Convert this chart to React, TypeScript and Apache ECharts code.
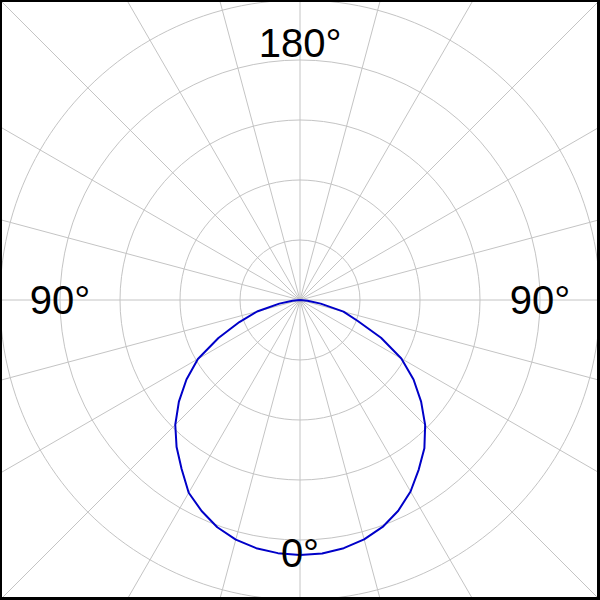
import React, { useEffect, useRef } from "react";
import * as echarts from "echarts";

// Pattern samples, angle in degrees measured from the 0° direction (bottom)
const patternAngles = [
  -90, -85, -80, -75, -70, -65, -60, -55, -50, -45, -40, -35, -30, -25, -20, -15, -10, -5,
  0, 5, 10, 15, 20, 25, 30, 35, 40, 45, 50, 55, 60, 65, 70, 75, 80, 85, 90,
];
// Normalised radius (outer circle = 1)
const patternValues = [
  0, 0.025, 0.07, 0.15, 0.205, 0.298, 0.39, 0.462, 0.527, 0.59, 0.645, 0.69, 0.737, 0.775, 0.805, 0.826, 0.84, 0.848,
  0.85, 0.847, 0.84, 0.827, 0.806, 0.776, 0.742, 0.688, 0.64, 0.588, 0.527, 0.462, 0.393, 0.3, 0.215, 0.148, 0.07, 0.025, 0,
];

// Angle labels
const labelTexts = ["0°", "90°", "180°", "90°"];
const labelAngles = [0, 90, 180, 270];
const labelRadii = [0.843, 0.8, 0.858, 0.8];

export default function App() {
  const ref = useRef<HTMLDivElement>(null);

  useEffect(() => {
    if (!ref.current) return;
    const chart = echarts.init(ref.current, undefined, { renderer: "svg" });

    const lineData = patternAngles.map((a, i) => [patternValues[i], a < 0 ? a + 360 : a]);
    const labelData = labelAngles.map((a, i) => ({
      value: [labelRadii[i], a],
      label: { formatter: labelTexts[i] },
    }));

    const gridColor = "#c4c4c4";

    chart.setOption({
      animation: false,
      backgroundColor: "#ffffff",
      polar: [
        { center: ["50%", "50%"], radius: 430 },
        { center: ["50%", "50%"], radius: 300 },
      ],
      angleAxis: [
        {
          polarIndex: 0,
          type: "value",
          min: 0,
          max: 360,
          interval: 15,
          startAngle: -90,
          clockwise: true,
          axisLine: { show: false },
          axisTick: { show: false },
          axisLabel: { show: false },
          splitLine: { show: true, lineStyle: { color: gridColor, width: 1 } },
        },
        {
          polarIndex: 1,
          type: "value",
          min: 0,
          max: 360,
          interval: 90,
          startAngle: -90,
          clockwise: true,
          axisLine: { show: false },
          axisTick: { show: false },
          axisLabel: { show: false },
          splitLine: { show: false },
        },
      ],
      radiusAxis: [
        {
          polarIndex: 0,
          type: "value",
          min: 0,
          max: 1,
          axisLine: { show: false },
          axisTick: { show: false },
          axisLabel: { show: false },
          splitLine: { show: false },
        },
        {
          polarIndex: 1,
          type: "value",
          min: 0,
          max: 1,
          interval: 0.2,
          axisLine: { show: false },
          axisTick: { show: false },
          axisLabel: { show: false },
          splitLine: { show: true, lineStyle: { color: gridColor, width: 1 } },
        },
      ],
      series: [
        {
          type: "line",
          coordinateSystem: "polar",
          polarIndex: 1,
          data: lineData,
          symbol: "none",
          smooth: false,
          lineStyle: { color: "#0000c8", width: 2 },
          z: 5,
        },
        {
          type: "scatter",
          coordinateSystem: "polar",
          polarIndex: 1,
          data: labelData,
          symbolSize: 1,
          itemStyle: { color: "rgba(255,255,255,0)" },
          label: {
            show: true,
            position: "inside",
            color: "#000000",
            opacity: 1,
            fontSize: 40,
            fontFamily: "Arial, 'Liberation Sans', sans-serif",
          },
          z: 10,
        },
      ],
    });

    return () => chart.dispose();
  }, []);

  return (
    <>
      <div
        ref={ref}
        style={{ position: "fixed", left: 0, top: 0, width: 600, height: 600, background: "#fff" }}
      />
      <div
        style={{
          position: "fixed",
          left: 0,
          top: 0,
          width: 600,
          height: 600,
          boxSizing: "border-box",
          borderTop: "2px solid #000",
          borderLeft: "2px solid #000",
          borderRight: "3px solid #000",
          borderBottom: "3px solid #000",
          pointerEvents: "none",
        }}
      />
    </>
  );
}
